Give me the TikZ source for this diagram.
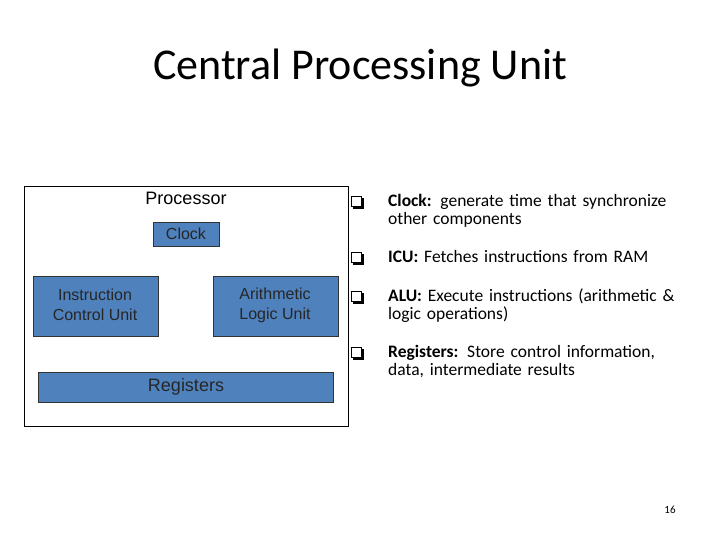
\documentclass[tikz,border=0pt]{standalone}
\usepackage{fontspec}
\setmainfont{Carlito}
\newfontfamily\arial{Liberation Sans}
\begin{document}
\begin{tikzpicture}[x=1pt,y=-1pt,
  blk/.style={draw=black!80,fill={rgb,255:red,79;green,129;blue,189},line width=0.8pt},
  btxt/.style={font=\arial\fontsize{16}{20}\selectfont,text=black!85,align=center},
  bul/.style={anchor=north west,align=left,text width=300pt,font=\fontsize{17.5}{18}\selectfont,inner sep=0pt}]
\useasboundingbox (0,0) rectangle (720,540);
\node (title) at (360,68) {\fontsize{44}{48}\selectfont Central Processing Unit};
\draw[line width=0.8pt] (24,186) rectangle (348,426);
\node[font=\arial\fontsize{18}{20}\selectfont] (proc) at (186,198) {Processor};
\draw[blk] (153,222) rectangle (219,246);
\node[btxt] (clk) at (186,234) {Clock};
\draw[blk] (33,276) rectangle (158,336);
\node[btxt] (icu) at (95,305) {Instruction\\Control Unit};
\draw[blk] (213,276) rectangle (338,336);
\node[btxt] (alu) at (275,305) {Arithmetic\\Logic Unit};
\draw[blk] (38,372) rectangle (333,402);
\node[btxt,font=\arial\fontsize{18}{20}\selectfont] (reg) at (186,387) {Registers};
\foreach \y/\t in {194/{\textbf{Clock:} generate time that synchronize\\other components},
                  250/{\textbf{ICU:} Fetches instructions from RAM},
                  289/{\textbf{ALU:} Execute instructions (arithmetic \&\\logic operations)},
                  345/{\textbf{Registers:} Store control information,\\data, intermediate results}}{
  \fill[black] (353,\y+4) rectangle (364,\y+15);
  \fill[white,draw=black,line width=0.7pt] (351,\y+2) rectangle (361,\y+12);
  \node[bul] at (388,\y) {\raggedright\t};
}
\node[font=\fontsize{11}{13}\selectfont] (pg) at (670,510) {16};
\end{tikzpicture}
\end{document}
